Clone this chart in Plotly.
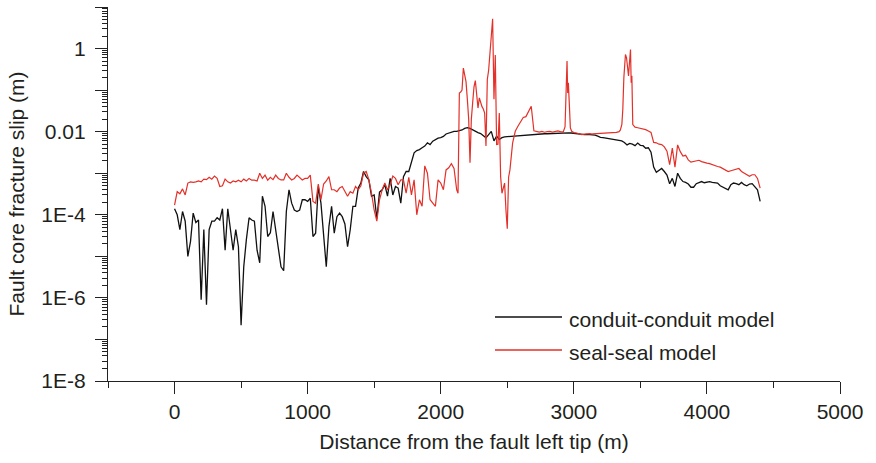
import plotly.graph_objects as go

# ---------------- data ----------------
# conduit-conduit model (black), sampled every 20 m from 0 to 4400 m
black_x = list(range(0, 4401, 20))
black_y = [
    1.4e-4, 1.0e-4, 4.4e-5, 1.2e-4, 7e-5, 1e-5, 2.3e-5, 1.1e-4, 6.5e-5, 7.5e-5,
    9e-7, 4.4e-5, 6.8e-7, 4.4e-5, 7e-5, 7e-5, 8.5e-5, 7.5e-5, 1.4e-4, 1.4e-5,
    1.4e-4, 3.7e-5, 1.4e-5, 4.4e-5, 1.7e-5, 2.2e-7, 5.6e-6, 2.6e-5, 8.5e-5, 7.5e-5,
    7e-5, 1.4e-5, 7e-6, 2.8e-4, 1.6e-4, 3e-5, 3.7e-5, 1.2e-4, 4.4e-5, 1.4e-5,
    5.6e-6, 4.5e-6, 1.2e-4, 4e-4, 1.9e-4, 1.3e-4, 1.2e-4, 1.3e-4, 2.3e-4, 2.3e-4,
    2.1e-4, 2.5e-4, 3e-5, 3.6e-5, 4.8e-4, 1.9e-4, 3.6e-5, 5.6e-6, 5.2e-5, 1.6e-4,
    3.6e-5, 9e-5, 1.1e-4, 9e-5, 6e-5, 1.7e-5, 4.4e-5, 1.6e-4, 1.6e-4, 4.4e-4,
    5.8e-4, 1.1e-3, 8.3e-4, 6.9e-4, 2.8e-4, 3e-4, 8e-5, 3.5e-4, 4e-4, 5.3e-4,
    2.8e-4, 7.5e-4, 3e-4, 4.8e-4, 4.4e-4, 1.9e-4, 8.3e-4, 1.1e-3, 1.1e-3, 1.8e-3,
    3.1e-3, 3.5e-3, 3.7e-3, 4.1e-3, 4.5e-3, 5.4e-3, 4.9e-3, 5.9e-3, 6.5e-3, 7e-3,
    7.2e-3, 7.7e-3, 8.8e-3, 9.3e-3, 9.8e-3, 0.0102, 0.0102, 0.0105, 0.011, 0.012,
    0.0125, 0.012, 0.011, 0.0105, 0.0095, 0.009, 0.008, 0.0071, 0.0085, 0.0102,
    0.006, 0.0078, 0.0065, 0.0072, 0.0075, 0.0076, 0.0077, 0.0079, 0.008, 0.0081,
    0.0082, 0.0083, 0.0084, 0.0085, 0.0086, 0.0087, 0.0087, 0.0088, 0.0088, 0.0089,
    0.0089, 0.009, 0.009, 0.0091, 0.0092, 0.0093, 0.0092, 0.0093, 0.0094, 0.0093,
    0.0091, 0.009, 0.0088, 0.0086, 0.0085, 0.0086, 0.0085, 0.0084, 0.0083, 0.0078,
    0.0073, 0.0072, 0.007, 0.0068, 0.0066, 0.0065, 0.0064, 0.0063, 0.006, 0.0055,
    4.8e-3, 5.2e-3, 5.0e-3, 4.6e-3, 5.3e-3, 4.7e-3, 4.6e-3, 4.0e-3, 4.1e-3, 3.2e-3,
    1.4e-3, 1.05e-3, 1.2e-3, 1.3e-3, 1.1e-3, 9e-4, 5.6e-4, 7.5e-4, 4.8e-4, 1.0e-3,
    7.5e-4, 6.3e-4, 6.0e-4, 5.5e-4, 4.6e-4, 4.6e-4, 5.6e-4, 5.9e-4, 6.3e-4, 5.9e-4,
    6.0e-4, 6.3e-4, 6.0e-4, 5.8e-4, 5.8e-4, 5.0e-4, 4.6e-4, 4.4e-4, 4.0e-4, 5.3e-4,
    5.8e-4, 5.6e-4, 5.3e-4, 6.0e-4, 5.3e-4, 5.0e-4, 5.5e-4, 5.6e-4, 4.8e-4, 4.0e-4,
    2.1e-4,
]

# seal-seal model (red); finer sampling where the slip spikes
red_x = (
    list(range(0, 2100, 20))
    + list(range(2100, 2530, 10))
    + list(range(2540, 2940, 20))
    + [2934, 2941, 2949, 2954, 2959, 2967, 2974, 2984]
    + list(range(3000, 3350, 20))
    + [3350, 3361, 3368, 3376, 3381, 3388, 3396, 3401, 3411, 3418, 3426, 3431, 3436, 3443, 3450]
    + list(range(3460, 4401, 20))
)
red_y = [
    # 0 - 2080 (20 m)
    1.7e-4, 3.6e-4, 3.2e-4, 4.2e-4, 3.0e-4, 5.8e-4, 6.2e-4, 6.0e-4, 6.2e-4, 6.5e-4,
    6.2e-4, 7.2e-4, 7.0e-4, 8.0e-4, 7.2e-4, 8.5e-4, 7.5e-4, 4.8e-4, 5.0e-4, 7.2e-4,
    6.2e-4, 5.8e-4, 6.5e-4, 6.2e-4, 6.8e-4, 6.2e-4, 7.2e-4, 6.5e-4, 7.5e-4, 6.8e-4,
    6.8e-4, 6.5e-4, 1.0e-3, 7.5e-4, 9.0e-4, 6.8e-4, 8.0e-4, 7.0e-4, 9.0e-4, 7.5e-4,
    6.9e-4, 6.9e-4, 1.0e-3, 8.0e-4, 6.9e-4, 7.5e-4, 9.0e-4, 8.0e-4, 6.9e-4, 7.5e-4,
    7.5e-4, 9.0e-4, 2.1e-4, 1.9e-4, 5.5e-4, 2.3e-4, 5.5e-4, 6.5e-4, 8.3e-4, 4.0e-4,
    4.0e-4, 3.6e-4, 4.4e-4, 4.8e-4, 3.6e-4, 2.8e-4, 3.6e-4, 3.3e-4, 4.8e-4, 4.0e-4,
    5.0e-4, 1.0e-3, 1.1e-3, 7.0e-4, 3.3e-4, 1.3e-4, 7.0e-5, 2.3e-4, 4.0e-4, 5.8e-4,
    4.0e-4, 5.3e-4, 8.5e-4, 7.5e-4, 5.3e-4, 6.9e-4, 6.9e-4, 3.3e-4, 8.0e-4, 3.0e-4,
    6.9e-4, 1.0e-4, 2.3e-4, 1.6e-4, 1.5e-3, 1.0e-3, 2.3e-4, 1.9e-4, 1.6e-4, 6.9e-4,
    5.8e-4, 4.0e-4, 1.2e-3, 1.35e-3, 1.7e-3,
    # 2100 - 2520 (10 m)
    1.3e-3, 8e-4, 4e-4, 3.3e-4, 0.085, 0.09, 0.1, 0.34, 0.25, 0.16,
    0.06, 0.02, 1.8e-3, 0.02, 0.05, 0.12, 0.17, 0.06, 0.037, 0.065,
    0.05, 0.04, 0.035, 0.028, 4.5e-3, 0.18, 0.3, 0.9, 2.5, 5.2,
    0.06, 0.7, 4.9e-3, 5e-3, 0.028, 8.4e-4, 3.3e-4, 4.5e-4, 5.8e-4, 1.3e-4,
    4.6e-5, 8e-4, 1.2e-3,
    # 2540 - 2920 (20 m)
    5.3e-3, 0.0102, 0.0135, 0.018, 0.022, 0.023, 0.031, 0.041, 0.0105, 0.0100,
    0.0098, 0.0102, 0.0097, 0.0100, 0.0102, 0.0098, 0.0100, 0.0104, 0.0100, 0.0098,
    # spike near 2950 m
    0.013, 0.085, 0.5, 0.085, 0.15, 0.04, 0.0123, 0.0102,
    # 3000 - 3340 (20 m)
    0.0095, 0.0093, 0.009, 0.0085, 0.0087, 0.0089, 0.009, 0.0088, 0.0089, 0.0089,
    0.009, 0.0089, 0.009, 0.0092, 0.0093, 0.0093, 0.0096, 0.01,
    # spike near 3400 m
    0.011, 0.015, 0.034, 0.2, 0.31, 0.72, 0.6, 0.45, 0.22, 0.45, 0.95, 0.15, 0.22, 0.0148, 0.0135,
    # 3460 - 4400 (20 m)
    0.0128, 0.0124, 0.012, 0.0117, 0.0112, 0.0104, 0.0096, 5.5e-3, 5.4e-3, 5.0e-3,
    4.9e-3, 4.3e-3, 3.4e-3, 1.6e-3, 4.0e-3, 1.4e-3, 4.8e-3, 3.3e-3, 2.6e-3, 2.7e-3,
    2.1e-3, 1.85e-3, 1.9e-3, 2.0e-3, 2.05e-3, 1.9e-3, 1.8e-3, 1.75e-3, 1.7e-3, 1.6e-3,
    1.5e-3, 1.45e-3, 1.4e-3, 1.3e-3, 1.2e-3, 1.1e-3, 1.15e-3, 1.2e-3, 1.2e-3, 1.3e-3,
    1.1e-3, 1.0e-3, 9e-4, 8.4e-4, 9.2e-4, 9.2e-4, 7.5e-4, 4.4e-4,
]

series_names = ["conduit-conduit model", "seal-seal model"]
series_colors = ["#111111", "#e3312a"]

x_tickvals = [0, 1000, 2000, 3000, 4000, 5000]
x_minor = [-500, 500, 1500, 2500, 3500, 4500]
y_tickvals = [1e-8, 1e-7, 1e-6, 1e-5, 1e-4, 1e-3, 1e-2, 1e-1, 1, 10]
y_ticktext = ["1E-8", "", "1E-6", "", "1E-4", "", "0.01", "", "1", ""]
y_minor = [k * 10.0 ** e for e in range(-8, 1) for k in range(2, 10)]

# ---------------- figure ----------------
FONT = "Liberation Sans, Arial, sans-serif"
TXT = "#231f20"

fig = go.Figure()
fig.add_trace(go.Scatter(x=black_x, y=black_y, mode="lines", name=series_names[0],
                         line=dict(color=series_colors[0], width=1.3)))
fig.add_trace(go.Scatter(x=red_x, y=red_y, mode="lines", name=series_names[1],
                         line=dict(color=series_colors[1], width=1.2)))

L, R, T, B = 108, 36, 7, 82
W, H = 876, 463
pw, ph = W - L - R, H - T - B

def px(xp):
    return (xp - L) / pw

def py(yp):
    return (H - B - yp) / ph

# manual legend
leg_rows = [(317, series_colors[0], series_names[0]), (350, series_colors[1], series_names[1])]
for yp, col, name in leg_rows:
    fig.add_shape(type="line", xref="paper", yref="paper",
                  x0=px(495), x1=px(562), y0=py(yp), y1=py(yp),
                  line=dict(color=col, width=1.3))
    fig.add_annotation(xref="paper", yref="paper", x=px(567), y=py(yp + 2),
                       text=name, showarrow=False, xanchor="left", yanchor="middle",
                       font=dict(family=FONT, size=21, color=TXT))

fig.update_layout(
    width=W, height=H,
    margin=dict(l=L, r=R, t=T, b=B),
    paper_bgcolor="white", plot_bgcolor="white",
    showlegend=False,
    font=dict(family=FONT, size=21, color=TXT),
)
fig.update_xaxes(
    range=[-500, 5000], showgrid=False, zeroline=False,
    showline=True, linecolor="#222", linewidth=1.3,
    ticks="outside", ticklen=12, tickwidth=1.3, tickcolor="#222",
    tickvals=x_tickvals, ticktext=[str(v) for v in x_tickvals],
    minor=dict(ticks="outside", ticklen=6, tickwidth=1.2, tickcolor="#222", tickvals=x_minor),
    tickfont=dict(family=FONT, size=21, color=TXT),
    title=dict(text="Distance from the fault left tip (m)", standoff=11,
               font=dict(family=FONT, size=21, color=TXT)),
)
fig.update_yaxes(
    type="log", range=[-8, 1], showgrid=False, zeroline=False,
    showline=True, linecolor="#222", linewidth=1.3,
    ticks="outside", ticklen=12, tickwidth=1.3, tickcolor="#222",
    ticklabelstandoff=5,
    tickvals=y_tickvals, ticktext=y_ticktext,
    minor=dict(ticks="outside", ticklen=5, tickwidth=1, tickcolor="#222", tickvals=y_minor),
    tickfont=dict(family=FONT, size=21, color=TXT),
    title=dict(text="Fault core fracture slip (m)", standoff=10,
               font=dict(family=FONT, size=21, color=TXT)),
)

fig.write_html("out.html")
